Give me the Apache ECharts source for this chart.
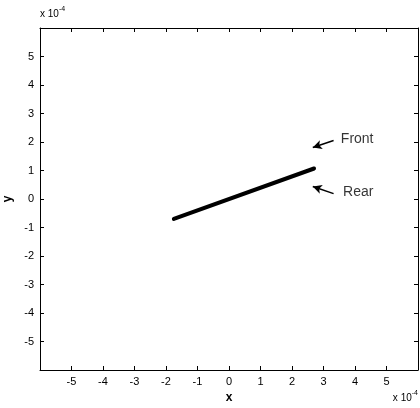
<!DOCTYPE html>
<html>
<head>
<meta charset="utf-8">
<script src="https://cdn.jsdelivr.net/npm/echarts@6/dist/echarts.min.js"></script>
<style>
  html, body { margin: 0; padding: 0; background: #fff; }
  #chart { width: 420px; height: 408px; }
</style>
</head>
<body>
<div id="chart"></div>
<script>
// values in units of 1e-4
const lineX = [-1.75, 2.7]
const lineY = [-0.7, 1.07]
const labels = ['Front', 'Rear']
const labelPos = [[3.55, 2.11], [3.62, 0.25]]
const arrowTail = [[3.32, 2.05], [3.32, 0.19]]
const arrowHead = [[2.66, 1.81], [2.66, 0.44]]

const font = 'Liberation Sans, Arial, sans-serif'
const axisMin = -6
const axisMax = 6

const chart = echarts.init(document.getElementById('chart'))

// 坐标轴公用设置
function makeAxis(pos, showLabel, name, extra) {
  return Object.assign({
    type: 'value',
    position: pos,
    min: axisMin,
    max: axisMax,
    interval: 1,
    splitLine: { show: false },
    axisLine: { show: true, onZero: false, lineStyle: { color: '#000', width: 1 } },
    axisTick: { show: true, inside: true, length: 4, lineStyle: { color: '#000' } },
    axisLabel: {
      show: showLabel,
      color: '#000',
      fontFamily: font,
      fontSize: 11,
      margin: 6,
      formatter: (v) => (Math.abs(v) === 6 ? '' : String(v))
    },
    name: name,
    nameLocation: 'middle',
    nameTextStyle: { color: '#000', fontFamily: font, fontSize: 12, fontWeight: 'bold' }
  }, extra || {})
}

const sciText = {
  text: '{a|x 10}{b|-4}',
  rich: {
    a: { fontFamily: font, fontSize: 10, fill: '#000', padding: [4, 0, 0, 0] },
    b: { fontFamily: font, fontSize: 7, fill: '#000', padding: [0, 0, 6, 0] }
  }
}

const option = {
  animation: false,
  backgroundColor: '#fff',
  grid: { left: 40, right: 2, top: 28, bottom: 38, outerBoundsMode: 'none' },
  xAxis: [
    makeAxis('bottom', true, 'x', { nameGap: 14 }),
    makeAxis('top', false, '')
  ],
  yAxis: [
    makeAxis('left', true, 'y', { nameGap: 21 }),
    makeAxis('right', false, '')
  ],
  graphic: [
    { type: 'text', left: 40, top: 6, style: sciText },
    { type: 'text', right: 2, top: 390, style: sciText }
  ],
  series: [
    {
      type: 'line',
      data: lineX.map((x, i) => [x, lineY[i]]),
      symbol: 'none',
      lineStyle: { color: '#000', width: 4, cap: 'round' },
      markLine: {
        silent: true,
        symbol: ['none', 'arrow'],
        symbolSize: [7, 9],
        label: { show: false },
        lineStyle: { color: '#000', width: 1.5, type: 'solid' },
        data: arrowTail.map((t, i) => [{ coord: t }, { coord: arrowHead[i] }])
      }
    },
    {
      type: 'scatter',
      symbolSize: 0,
      data: labelPos.map((p, i) => ({ value: p, name: labels[i] })),
      label: {
        show: true,
        position: 'right',
        distance: 0,
        formatter: '{b}',
        color: '#000',
        fontFamily: font,
        fontSize: 14
      }
    }
  ]
}

chart.setOption(option)
</script>
</body>
</html>
